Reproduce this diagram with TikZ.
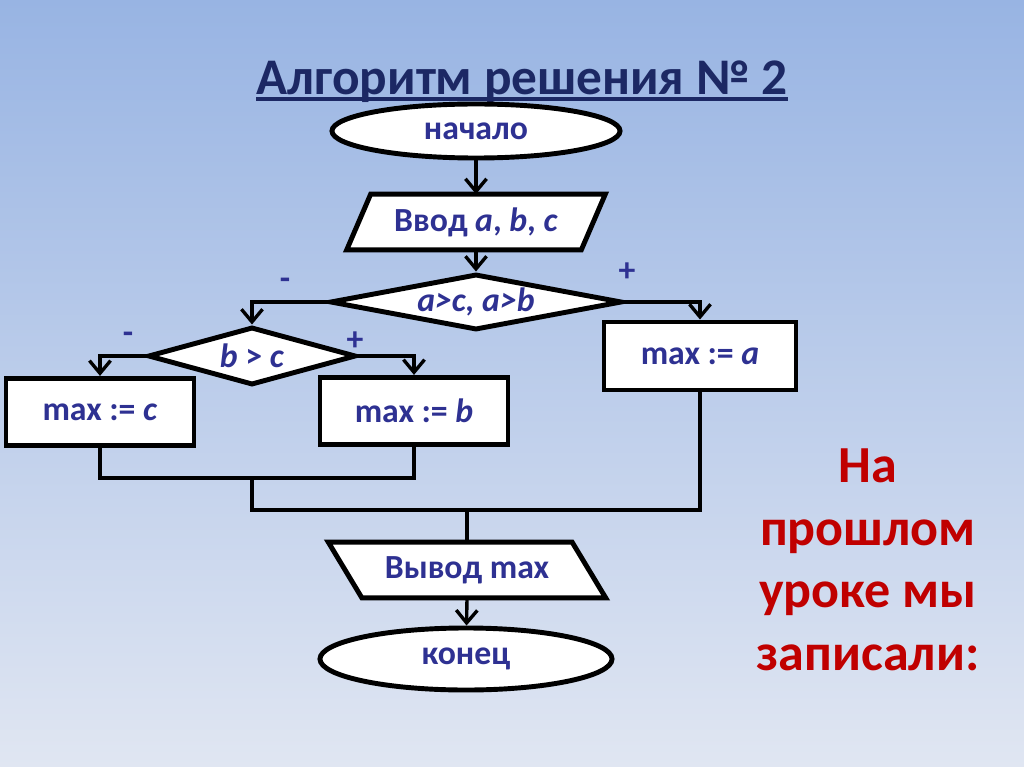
\documentclass[tikz,border=0pt]{standalone}
\usepackage{fontspec}
\setmainfont{Carlito}
\usetikzlibrary{positioning}
\usetikzlibrary{arrows.meta}
\usetikzlibrary{shapes.geometric}
\usetikzlibrary{backgrounds}
\definecolor{navy}{RGB}{28,40,100}
\definecolor{ink}{RGB}{46,49,146}
\definecolor{darkred}{RGB}{192,0,0}
\definecolor{skytop}{RGB}{152,180,227}
\definecolor{skybottom}{RGB}{224,230,242}

\tikzset{
    nodetext/.style={text=ink, font=\fontsize{24}{28}\selectfont\bfseries},
    term/.style={ellipse, draw=black, fill=white, line width=3.5pt, nodetext},
    io/.style={rectangle, inner sep=0pt, nodetext},
    iobox/.style={draw=black, fill=white, line width=3.5pt, line join=miter},
    cond/.style={diamond, draw=black, fill=white, line width=3.5pt, inner sep=0pt, nodetext},
    block/.style={rectangle, draw=black, fill=white, line width=3.5pt, nodetext},
    sign/.style={nodetext},
    flow/.style={draw=black, line width=2.4pt},
    arrow/.style={flow, -{Straight Barb[length=9pt,width=15pt]}}
}

\begin{document}
\begin{tikzpicture}[x=0.025cm, y=-0.025cm]
    % background
    \begin{scope}[on background layer]
        \shade[top color=skytop, bottom color=skybottom] (0,0) rectangle (1024,767);
    \end{scope}
    \useasboundingbox (0,0) rectangle (1024,767);

    \node[inner sep=0pt, text=navy, font=\fontsize{36.5}{40}\selectfont\bfseries] (title) at (522,82) {Алгоритм решения №~2};
    \draw[navy, line width=2.4pt] ([yshift=-3pt]title.base west) -- ([yshift=-3pt]title.base east);

    \node[term, minimum width=7.2cm, minimum height=1.35cm] (start) at (476,131) {начало};
    \node[io, minimum width=5.85cm, minimum height=1.38cm] (input) at (476,222) {Ввод \textit{a}, \textit{b}, \textit{c}};
    \node[cond, aspect=5, minimum width=7.3cm, minimum height=1.4cm] (cond1) at (476,302) {\textit{a>c, a>b}};
    \node[cond, aspect=3.6, minimum width=5.2cm, minimum height=1.45cm] (cond2) at (252,356) {\textit{b} > \textit{c}};
    \node[block, minimum width=4.8cm, minimum height=1.7cm] (maxa) at (700,356) {max := \textit{a}};
    \node[block, minimum width=4.7cm, minimum height=1.68cm] (maxc) at (100,412) {max := \textit{c}};
    \node[block, minimum width=4.7cm, minimum height=1.68cm] (maxb) at (414,411) {max := \textit{b}};
    \node[io, minimum width=6.08cm, minimum height=1.38cm] (output) at (467,570) {Вывод max};
    \node[term, minimum width=7.3cm, minimum height=1.55cm] (stop) at (466,659) {конец};

    % parallelograms behind the text
    \begin{scope}[on background layer]
        \draw[iobox] ([xshift=0.3cm]input.north west) -- ([xshift=0.3cm]input.north east)
            -- ([xshift=-0.3cm]input.south east) -- ([xshift=-0.3cm]input.south west) -- cycle;
        \draw[iobox] ([xshift=-0.42cm]output.north west) -- ([xshift=-0.42cm]output.north east)
            -- ([xshift=0.42cm]output.south east) -- ([xshift=0.42cm]output.south west) -- cycle;
    \end{scope}

    \node[sign] (minus1) at (285,284) {-};
    \node[sign] (plus1) at (627,272) {+};
    \node[sign] (minus2) at (128,338) {-};
    \node[sign] (plus2) at (355,341) {+};

    \coordinate (joinl) at (252,478);
    \coordinate (joinm) at (467,510);

    \draw[arrow] (start) -- (input);
    \draw[arrow] (input) -- (cond1);
    \draw[arrow] (cond1.west) -| (cond2.north);
    \draw[arrow] (cond1.east) -| (maxa.north);
    \draw[arrow] (cond2.west) -| (maxc.north);
    \draw[arrow] (cond2.east) -| (maxb.north);
    \draw[flow] (maxc.south) |- (joinl) -| (maxb.south);
    \draw[flow] (joinl) |- (joinm) -| (maxa.south);
    \draw[flow] (joinm) -- (output.north);
    \draw[arrow] (output.south) -- (stop);

    \node[align=center, text=darkred, font=\fontsize{37}{44.5}\selectfont\bfseries] (note) at (868,560) {На\\прошлом\\уроке мы\\записали:};
\end{tikzpicture}
\end{document}
